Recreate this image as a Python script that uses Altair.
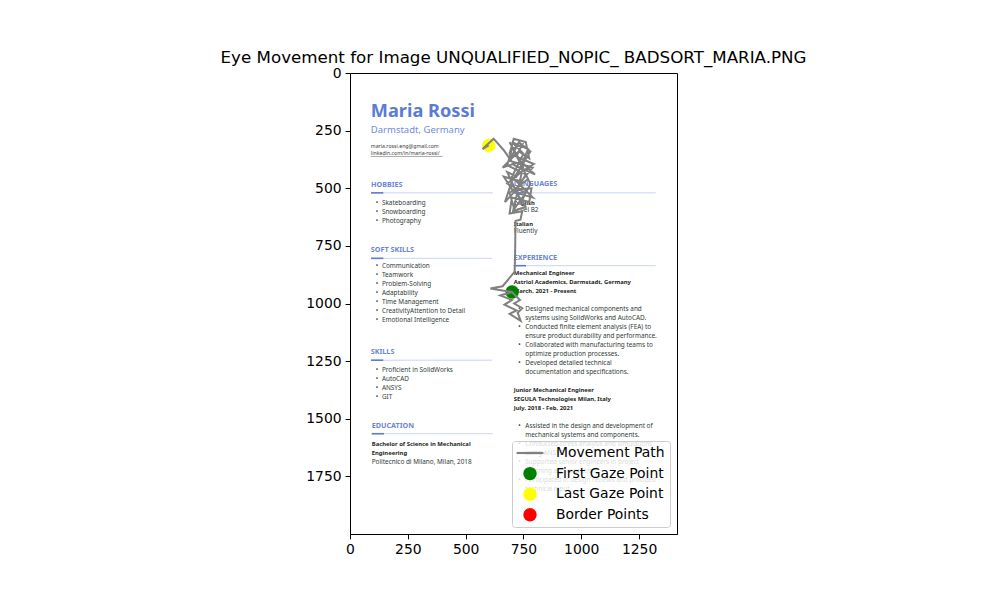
import altair as alt
import pandas as pd

# ---------------- data ----------------
IMG_W, IMG_H = 1414, 2000
chart_title = "Eye Movement for Image UNQUALIFIED_NOPIC_ BADSORT_MARIA.PNG"

x_ticks = [0, 250, 500, 750, 1000, 1250]
y_ticks = [0, 250, 500, 750, 1000, 1250, 1500, 1750]

# gaze path (image pixel coordinates), first point = first gaze, last = last gaze
gaze_x = [701, 650, 700, 668, 720, 690, 738, 725, 745, 710, 735, 700, 607, 660,
          712, 714, 715, 716, 737, 745, 690, 700, 775, 785, 700, 665, 740, 790,
          720, 660, 730, 775, 760, 708, 690, 795, 740, 680, 760, 710, 690, 770,
          720, 745, 700, 680, 760, 725, 670, 700, 780, 730, 690, 750,
          705, 760, 720, 790, 700, 750, 700, 770, 720, 680, 740, 780, 690, 735,
          800, 710, 665, 621, 573, 600]
gaze_y = [950, 965, 985, 1005, 1030, 1045, 1075, 1040, 1020, 1000, 985, 950, 935, 925,
          862, 780, 700, 641, 636, 600, 610, 540, 560, 500, 505, 450, 470, 410,
          390, 410, 340, 370, 300, 285, 350, 395, 430, 480, 520, 590, 520, 460,
          360, 310, 330, 400, 440, 500, 560, 470, 340, 300, 380, 400,
          600, 580, 520, 540, 450, 350, 300, 330, 450, 430, 560, 480, 300, 380,
          440, 400, 335, 285, 330, 314]

legend_items = ["Movement Path", "First Gaze Point", "Last Gaze Point", "Border Points"]
legend_colors = ["#808080", "#008000", "#ffff00", "#ff0000"]
legend_shapes = ["M-2,-0.16H2V0.16H-2Z", "circle", "circle", "circle"]

# resume content
name_text, name_x, name_y = ["Maria Rossi"], [90], [193]
sub_text, sub_x, sub_y = ["Darmstadt, Germany"], [90], [260]
contact_text = ["maria.rossi.eng@gmail.com", "linkedin.com/in/maria-rossi/"]
contact_x = [90, 90]
contact_y = [324, 356]
link_ul_x, link_ul_x2, link_ul_y = [90], [400], [362]

heading_text = ["HOBBIES", "SOFT SKILLS", "SKILLS", "EDUCATION", "LANGUAGES", "EXPERIENCE"]
heading_x = [91, 90, 90, 94, 708, 708]
heading_y = [494, 775, 1217, 1540, 492, 810]
line_x1 = [91, 91, 91, 94, 708, 708]
line_x2 = [618, 615, 615, 618, 1322, 1322]
line_y = [520, 804, 1246, 1565, 520, 836]
accent_len = 53

bold_text = ["English", "Italian", "Mechanical Engineer",
             "Astriol Academics, Darmstadt, Germany", "March, 2021 - Present",
             "Junior Mechanical Engineer", "SEGULA Technologies Milan, Italy",
             "July, 2018 - Feb, 2021", "Bachelor of Science in Mechanical", "Engineering"]
bold_x = [708, 708, 708, 708, 708, 708, 708, 708, 94, 94]
bold_y = [573, 662, 876, 915, 954, 1385, 1424, 1464, 1618, 1657]

plain_text = ["Level B2", "Fluently", "Politecnico di Milano, Milan, 2018"]
plain_x = [708, 708, 94]
plain_y = [604, 694, 1696]

left_list = ["Skateboarding", "Snowboarding", "Photography",
             "Communication", "Teamwork", "Problem-Solving", "Adaptability",
             "Time Management", "CreativityAttention to Detail", "Emotional Intelligence",
             "Proficient in SolidWorks", "AutoCAD", "ANSYS", "GIT"]
left_list_y = [574, 613, 652, 844, 883, 922, 961, 1001, 1040, 1080, 1298, 1337, 1377, 1416]
left_text_x, left_bullet_x = 138, 111

right_list = ["Designed mechanical components and", "systems using SolidWorks and AutoCAD.",
              "Conducted finite element analysis (FEA) to", "ensure product durability and performance.",
              "Collaborated with manufacturing teams to", "optimize production processes.",
              "Developed detailed technical", "documentation and specifications.",
              "Assisted in the design and development of", "mechanical systems and components.",
              "Conducted stress analysis and simulations", "using ANSYS.",
              "Supported senior engineers in project", "planning and execution.",
              "Participated in design reviews and provided", "technical input."]
right_list_y = [1031, 1071, 1110, 1150, 1189, 1228, 1267, 1306,
                1541, 1580, 1618, 1657, 1696, 1735, 1776, 1815]
right_bullet_y = [1031, 1110, 1189, 1267, 1541, 1618, 1696, 1776]
right_text_x, right_bullet_x = 758, 728

# ---------------- encodings ----------------
FONT = "DejaVu Sans"
RFONT = "Noto Sans"
BODY = "#2f3c36"
xscale = alt.Scale(domain=[0, IMG_W], nice=False, zero=False)
yscale = alt.Scale(domain=[0, IMG_H], nice=False, zero=False, reverse=True)
xaxis = alt.Axis(values=x_ticks, format="d", title=None, grid=False, labelFont=FONT, labelFontSize=13.9,
                 labelColor="black", tickColor="black", tickSize=4.9, domainColor="black",
                 labelPadding=4, labelFlush=False, labelOverlap=False)
yaxis = alt.Axis(values=y_ticks, format="d", title=None, grid=False, labelFont=FONT, labelFontSize=13.9,
                 labelColor="black", tickColor="black", tickSize=4.9, domainColor="black",
                 labelPadding=4, labelFlush=False, labelOverlap=False)
X = alt.X("x:Q", scale=xscale, axis=xaxis)
Y = alt.Y("y:Q", scale=yscale, axis=yaxis)


def text_layer(xs, ys, texts, size, color, weight="normal"):
    df = pd.DataFrame({"x": xs, "y": ys, "t": texts})
    return alt.Chart(df).mark_text(align="left", baseline="alphabetic", font=RFONT,
                                   fontSize=size, fontWeight=weight, color=color).encode(
        x=X, y=Y, text="t:N")


def rule_layer(x1, x2, ys, color, width):
    df = pd.DataFrame({"x": x1, "x2": x2, "y": ys})
    return alt.Chart(df).mark_rule(color=color, strokeWidth=width).encode(
        x=X, x2="x2:Q", y=Y)


layers = []
layers.append(text_layer(name_x, name_y, name_text, 18.2, "#5b7bd5", "bold"))
layers.append(text_layer(sub_x, sub_y, sub_text, 9.5, "#6f8bdc"))
layers.append(text_layer(contact_x, contact_y, contact_text, 5.2, "#3a3a3a"))
layers.append(rule_layer(link_ul_x, link_ul_x2, link_ul_y, "#555555", 0.5))
layers.append(text_layer(heading_x, heading_y, heading_text, 7.2, "#6a85d6", "bold"))
layers.append(rule_layer(line_x1, line_x2, line_y, "#c9d4f4", 1))
layers.append(rule_layer(line_x1, [v + accent_len for v in line_x1], line_y, "#5b7bd5", 1.6))
layers.append(text_layer(bold_x, bold_y, bold_text, 5.9, "#1a2620", "bold"))
layers.append(text_layer(plain_x, plain_y, plain_text, 6.4, BODY))
layers.append(text_layer([left_text_x] * len(left_list), left_list_y, left_list, 6.4, BODY))
layers.append(text_layer([left_bullet_x] * len(left_list), left_list_y, ["•"] * len(left_list), 6.4, BODY))
layers.append(text_layer([right_text_x] * len(right_list), right_list_y, right_list, 6.4, BODY))
layers.append(text_layer([right_bullet_x] * len(right_bullet_y), right_bullet_y, ["•"] * len(right_bullet_y), 6.4, BODY))

# first / last gaze points with legend (drawn beneath the path, as in the reference)
pts_df = pd.DataFrame({"x": [gaze_x[0], gaze_x[-1]], "y": [gaze_y[0], gaze_y[-1]],
                       "series": ["First Gaze Point", "Last Gaze Point"]})
legend = alt.Legend(
    title=None, orient="bottom-right", offset=7, padding=5,
    fillColor="rgba(255,255,255,0.8)", strokeColor="#cccccc", cornerRadius=3,
    labelFont=FONT, labelFontSize=13.9, labelColor="black",
    symbolSize=180, symbolOffset=6, labelOffset=19, rowPadding=6.6,
    symbolStrokeWidth=0, symbolOpacity=1)
layers.append(alt.Chart(pts_df).mark_point(filled=True, size=180, opacity=1).encode(
    x=X, y=Y,
    color=alt.Color("series:N", scale=alt.Scale(domain=legend_items, range=legend_colors), legend=legend),
    shape=alt.Shape("series:N", scale=alt.Scale(domain=legend_items, range=legend_shapes), legend=legend),
))

# gaze path
path_df = pd.DataFrame({"x": gaze_x, "y": gaze_y, "i": list(range(len(gaze_x)))})
layers.append(alt.Chart(path_df).mark_line(color="#808080", strokeWidth=2).encode(
    x=X, y=Y, order="i:Q"))

chart = alt.layer(*layers).properties(
    width=327, height=461,
    title=alt.TitleParams(chart_title, font=FONT, fontSize=16.7, fontWeight="normal",
                          color="black", anchor="middle", frame="group", offset=4, dy=5),
    autosize=alt.AutoSizeParams(type="none"),
    padding={"left": 350, "top": 73, "right": 323, "bottom": 66},
    background="white",
).configure_view(stroke="black", strokeWidth=1, fill="white")

chart.save("out.html", embed_options={"renderer": "svg", "actions": False})
